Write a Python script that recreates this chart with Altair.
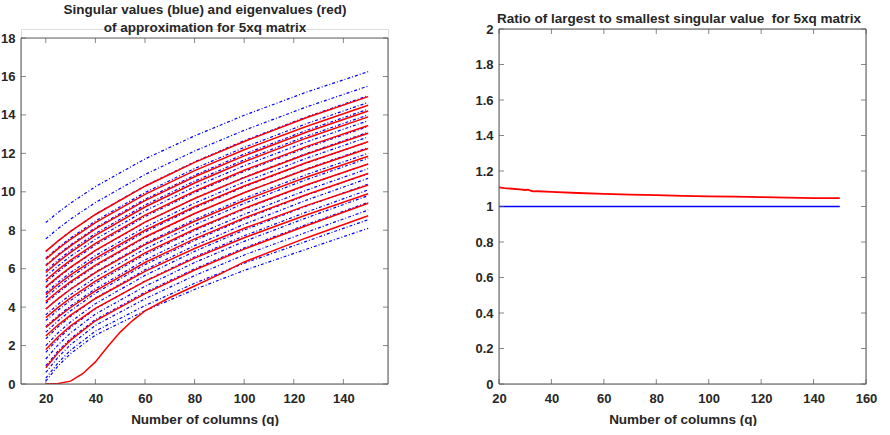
import altair as alt
import pandas as pd

# ---------------- data ----------------
X_GRID = [20, 25, 30, 40, 60, 80, 100, 125, 150]

BLUE = [
    [8.40, 8.93, 9.41, 10.27, 11.71, 12.91, 13.98, 15.18, 16.25],
    [7.55, 8.09, 8.58, 9.44, 10.90, 12.12, 13.20, 14.41, 15.50],
    [6.90, 7.45, 7.95, 8.83, 10.31, 11.56, 12.66, 13.89, 15.00],
    [6.55, 7.10, 7.60, 8.48, 9.96, 11.21, 12.31, 13.54, 14.65],
    [6.20, 6.75, 7.25, 8.13, 9.61, 10.86, 11.96, 13.19, 14.30],
    [5.90, 6.45, 6.95, 7.83, 9.31, 10.56, 11.66, 12.89, 14.00],
    [5.60, 6.15, 6.65, 7.53, 9.01, 10.26, 11.36, 12.59, 13.70],
    [5.30, 5.85, 6.35, 7.23, 8.71, 9.96, 11.06, 12.29, 13.40],
    [5.00, 5.55, 6.05, 6.93, 8.41, 9.66, 10.76, 11.99, 13.10],
    [4.75, 5.30, 5.80, 6.68, 8.16, 9.41, 10.51, 11.74, 12.85],
    [4.50, 5.05, 5.55, 6.43, 7.91, 9.16, 10.26, 11.49, 12.60],
    [4.20, 4.75, 5.25, 6.13, 7.61, 8.86, 9.96, 11.19, 12.30],
    [3.90, 4.45, 4.95, 5.83, 7.31, 8.56, 9.66, 10.89, 12.00],
    [3.60, 4.15, 4.65, 5.54, 7.03, 8.29, 9.40, 10.63, 11.75],
    [3.30, 3.85, 4.35, 5.24, 6.73, 7.99, 9.10, 10.33, 11.45],
    [3.00, 3.56, 4.06, 4.95, 6.45, 7.72, 8.83, 10.08, 11.20],
    [2.70, 3.29, 3.81, 4.72, 6.21, 7.47, 8.58, 9.82, 10.95],
    [2.35, 2.98, 3.52, 4.46, 5.94, 7.20, 8.31, 9.56, 10.70],
    [2.00, 2.67, 3.23, 4.18, 5.65, 6.90, 8.01, 9.25, 10.40],
    [1.65, 2.35, 2.94, 3.91, 5.36, 6.61, 7.71, 8.94, 10.10],
    [1.30, 2.04, 2.66, 3.64, 5.08, 6.32, 7.42, 8.64, 9.80],
    [0.95, 1.72, 2.36, 3.35, 4.77, 5.99, 7.08, 8.29, 9.45],
    [0.60, 1.40, 2.05, 3.05, 4.43, 5.64, 6.71, 7.89, 9.05],
    [0.30, 1.11, 1.76, 2.75, 4.08, 5.24, 6.28, 7.42, 8.55],
    [0.15, 0.95, 1.58, 2.54, 3.81, 4.92, 5.91, 7.01, 8.10],
]

RED = [
    [6.90, 7.45, 7.94, 8.82, 10.29, 11.53, 12.62, 13.85, 14.95],
    [6.50, 7.04, 7.53, 8.40, 9.87, 11.10, 12.19, 13.40, 14.50],
    [6.15, 6.70, 7.19, 8.07, 9.54, 10.78, 11.87, 13.10, 14.20],
    [5.80, 6.35, 6.85, 7.73, 9.21, 10.46, 11.56, 12.79, 13.90],
    [5.40, 5.95, 6.44, 7.32, 8.79, 10.03, 11.12, 12.35, 13.45],
    [5.05, 5.59, 6.08, 6.95, 8.42, 9.65, 10.74, 11.95, 13.05],
    [4.65, 5.19, 5.68, 6.54, 8.00, 9.22, 10.30, 11.51, 12.60],
    [4.30, 4.84, 5.33, 6.19, 7.65, 8.87, 9.95, 11.16, 12.25],
    [3.90, 4.44, 4.93, 5.79, 7.25, 8.47, 9.55, 10.76, 11.85],
    [3.45, 3.99, 4.48, 5.35, 6.82, 8.05, 9.14, 10.35, 11.45],
    [2.95, 3.49, 3.98, 4.85, 6.32, 7.55, 8.64, 9.85, 10.95],
    [2.50, 3.08, 3.58, 4.45, 5.86, 7.05, 8.10, 9.28, 10.35],
    [1.80, 2.46, 3.02, 3.94, 5.34, 6.55, 7.61, 8.79, 9.90],
    [0.85, 1.64, 2.28, 3.29, 4.70, 5.93, 7.02, 8.23, 9.40],
]

RED_LOW_X = [20, 25, 30, 35, 40, 45, 50, 55, 60, 70, 80, 90, 100, 125, 150]
RED_LOW = [0.0, 0.03, 0.15, 0.55, 1.15, 1.95, 2.70, 3.30, 3.80, 4.50, 5.10, 5.70, 6.35, 7.60, 8.75]

RATIO_X = [20, 22, 25, 28, 30, 31, 32, 33, 35, 40, 50, 60, 70, 80, 90, 100, 110, 120, 130, 140, 150]
RATIO_RED = [1.108, 1.104, 1.100, 1.096, 1.093, 1.095, 1.090, 1.085, 1.086, 1.082, 1.076,
             1.071, 1.067, 1.064, 1.060, 1.057, 1.056, 1.053, 1.050, 1.047, 1.047]
RATIO_BLUE_X = [20, 150]
RATIO_BLUE = [1.0, 1.0]

LEFT_X_TICKS = [20, 40, 60, 80, 100, 120, 140]
LEFT_Y_TICKS = [0, 2, 4, 6, 8, 10, 12, 14, 16, 18]
RIGHT_X_TICKS = [20, 40, 60, 80, 100, 120, 140, 160]
RIGHT_Y_TICKS = [0, 0.2, 0.4, 0.6, 0.8, 1, 1.2, 1.4, 1.6, 1.8, 2]

LEFT_X_RANGE = [10, 158]
LEFT_Y_RANGE = [0, 18]
RIGHT_X_RANGE = [20, 160]
RIGHT_Y_RANGE = [0, 2]

LEFT_TITLE = ["Singular values (blue) and eigenvalues (red)", "of approximation for 5xq matrix"]
RIGHT_TITLE = ["Ratio of largest to smallest singular value\u00a0 for 5xq matrix"]
X_TITLE = "Number of columns (q)"

# ---------------- style ----------------
W, H = 367, 355
FONT = "Liberation Sans"
TXT = "#262626"
BOX = "#555555"
LEFT_Y_DOMAIN = [0, 18.47]   # plot box top (18) sits lower than the panel top


def x_axis(values, title):
    return alt.Axis(values=values, ticks=False, domain=False, grid=False,
                    labelFont=FONT, labelFontSize=13, labelFontWeight="bold",
                    labelColor=TXT, labelPadding=8, labelFlush=False, labelOverlap=False,
                    title=title, titleFont=FONT, titleFontSize=13.5,
                    titleFontWeight="bold", titleColor=TXT, titlePadding=7)


def y_axis(values):
    return alt.Axis(values=values, ticks=False, domain=False, grid=False,
                    labelFont=FONT, labelFontSize=13, labelFontWeight="bold",
                    labelColor=TXT, labelPadding=6, labelFlush=False, labelOverlap=False,
                    format="~g", title=None)


def panel(line_layers, xr, yr, ydom, xt, yt, title_lines, title_y):
    X = lambda: alt.X("x:Q", scale=alt.Scale(domain=xr, nice=False, zero=False),
                      axis=x_axis(xt, X_TITLE))
    Y = lambda: alt.Y("y:Q", scale=alt.Scale(domain=ydom, nice=False, zero=False),
                      axis=y_axis(yt))
    layers = []
    for df, color, dash, sw in line_layers:
        kw = dict(color=color, strokeWidth=sw, clip=True)
        if dash:
            kw["strokeDash"] = dash
        layers.append(alt.Chart(df).mark_line(**kw).encode(x=X(), y=Y(), detail="curve:N"))
    box = pd.DataFrame({
        "x": [xr[0], xr[0], xr[0], xr[1]],
        "x2": [xr[1], xr[1], xr[0], xr[1]],
        "y": [yr[0], yr[1], yr[0], yr[0]],
        "y2": [yr[0], yr[1], yr[1], yr[1]],
    })
    layers.append(alt.Chart(box).mark_rule(color=BOX, strokeWidth=1).encode(
        x=X(), x2="x2:Q", y=Y(), y2="y2:Q"))
    tb = pd.DataFrame({"x": xt, "y": [yr[0]] * len(xt)})
    tt = pd.DataFrame({"x": xt, "y": [yr[1]] * len(xt)})
    tl = pd.DataFrame({"x": [xr[0]] * len(yt), "y": yt})
    tr = pd.DataFrame({"x": [xr[1]] * len(yt), "y": yt})
    layers.append(alt.Chart(tb).mark_tick(orient="vertical", size=5, thickness=1,
                                          color=BOX, yOffset=-2.5).encode(x=X(), y=Y()))
    layers.append(alt.Chart(tt).mark_tick(orient="vertical", size=5, thickness=1,
                                          color=BOX, yOffset=2.5).encode(x=X(), y=Y()))
    layers.append(alt.Chart(tl).mark_tick(orient="horizontal", size=5, thickness=1,
                                          color=BOX, xOffset=2.5).encode(x=X(), y=Y()))
    layers.append(alt.Chart(tr).mark_tick(orient="horizontal", size=5, thickness=1,
                                          color=BOX, xOffset=-2.5).encode(x=X(), y=Y()))
    for i, line in enumerate(title_lines):
        tdf = pd.DataFrame({"t": [line]})
        layers.append(alt.Chart(tdf).mark_text(font=FONT, fontSize=13.5, fontWeight="bold",
                                               color=TXT, align="center",
                                               baseline="alphabetic").encode(
            text="t:N", x=alt.value(title_y[i][0]), y=alt.value(title_y[i][1])))
    return alt.layer(*layers).properties(width=W, height=H)


def long_df(xs_list, ys_list, prefix):
    rows = []
    for i, (xs, ys) in enumerate(zip(xs_list, ys_list)):
        for x, y in zip(xs, ys):
            rows.append({"x": x, "y": y, "curve": f"{prefix}{i}"})
    return pd.DataFrame(rows)


df_blue = long_df([X_GRID] * len(BLUE), BLUE, "b")
df_red = long_df([X_GRID] * len(RED) + [RED_LOW_X], RED + [RED_LOW], "r")
df_rb = long_df([RATIO_BLUE_X], [RATIO_BLUE], "rb")
df_rr = long_df([RATIO_X], [RATIO_RED], "rr")

left = panel(
    [(df_blue, "#0000ff", [3, 2, 1, 2], 1.2), (df_red, "#ff0000", None, 1.5)],
    LEFT_X_RANGE, LEFT_Y_RANGE, LEFT_Y_DOMAIN, LEFT_X_TICKS, LEFT_Y_TICKS,
    LEFT_TITLE, [(184, -15.3), (184, 2.7)],
)
right = panel(
    [(df_rb, "#0000ff", None, 1.4), (df_rr, "#ff0000", None, 1.8)],
    RIGHT_X_RANGE, RIGHT_Y_RANGE, RIGHT_Y_RANGE, RIGHT_X_TICKS, RIGHT_Y_TICKS,
    RIGHT_TITLE, [(180, -6.3)],
)

chart = alt.hconcat(left, right, spacing=85).properties(
    padding={"left": 0, "top": 2, "right": 0, "bottom": 0}
).configure_view(stroke=None).configure(background="white")

chart.save("out.html", embed_options={"renderer": "svg", "actions": False})
